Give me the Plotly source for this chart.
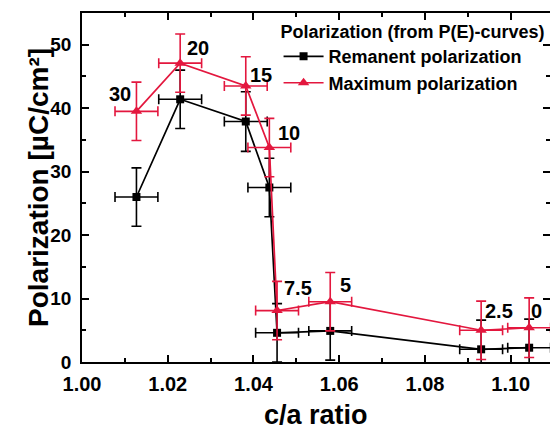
import plotly.graph_objects as go

# c/a ratio of each composition and its label
ca_ratio = [1.0127, 1.0229, 1.0382, 1.0437, 1.0455, 1.0579, 1.0931, 1.1043]
ca_err = [0.005, 0.005, 0.005, 0.005, 0.005, 0.005, 0.005, 0.005]
comp_labels = ["30", "20", "15", "10", "7.5", "5", "2.5", "0"]

# Remanent polarization (µC/cm²) with error
p_rem = [26.0, 41.4, 37.9, 27.5, 4.6, 4.9, 2.0, 2.25]
p_rem_err = [4.6, 4.6, 4.7, 4.6, 4.6, 4.6, 4.6, 4.5]

# Maximum polarization (µC/cm²) with error
p_max = [39.5, 47.1, 43.5, 33.8, 8.1, 9.5, 5.0, 5.4]
p_max_err = [4.6, 4.6, 4.6, 4.6, 4.6, 4.6, 4.6, 4.7]

# label anchor points (data coordinates)
label_x = [1.0088, 1.0270, 1.0418, 1.0483, 1.0503, 1.0614, 1.0973, 1.1060]
label_y = [42.3, 49.5, 45.3, 36.1, 11.7, 12.1, 8.1, 8.1]

BLACK = "#000000"
RED = "#e3173e"
FONT = "Liberation Sans, Arial, sans-serif"

fig = go.Figure()

fig.add_trace(go.Scatter(
    x=ca_ratio, y=p_rem, mode="lines+markers", name="Remanent polarization",
    line=dict(color=BLACK, width=1.7),
    marker=dict(symbol="square", size=8, color=BLACK),
    error_y=dict(type="data", array=p_rem_err, color=BLACK, thickness=1.6, width=5),
    error_x=dict(type="data", array=ca_err, color=BLACK, thickness=1.6, width=5),
))
fig.add_trace(go.Scatter(
    x=ca_ratio, y=p_max, mode="lines+markers", name="Maximum polarization",
    line=dict(color=RED, width=1.7),
    marker=dict(symbol="triangle-up", size=10, color=RED),
    error_y=dict(type="data", array=p_max_err, color=RED, thickness=1.6, width=5),
    error_x=dict(type="data", array=ca_err, color=RED, thickness=1.6, width=5),
))

for lx, ly, txt in zip(label_x, label_y, comp_labels):
    fig.add_annotation(x=lx, y=ly, text=txt, showarrow=False,
                       font=dict(family=FONT, size=20, color="black", weight="bold"),
                       xanchor="center", yanchor="middle")

# axis titles placed as free text around the plot area
fig.add_annotation(
    xref="paper", yref="paper", x=-0.093, y=0.5, text="Polarization [µC/cm²]",
    textangle=-90, showarrow=False, xanchor="center", yanchor="middle",
    font=dict(family=FONT, size=28, color="black", weight="bold"),
)
fig.add_annotation(
    xref="paper", yref="paper", x=0.5, y=-0.1975, text="c/a ratio",
    showarrow=False, xanchor="center", yanchor="bottom", borderpad=0,
    font=dict(family=FONT, size=27, color="black", weight="bold"),
)

axis_common = dict(
    showline=True, linecolor="black", linewidth=1.5, mirror="ticks",
    ticks="inside", ticklen=7, tickwidth=1.5, tickcolor="black",
    showgrid=False, zeroline=False, automargin=False,
)

fig.update_xaxes(
    range=[1.0, 1.10916], dtick=0.02, tick0=1.0, tickformat=".2f",
    minor=dict(dtick=0.01, ticks="inside", ticklen=4, tickwidth=1.5, tickcolor="black"),
    tickfont=dict(family=FONT, size=20, color="black", weight="bold"),
    ticklabelstandoff=3,
    **axis_common,
)
fig.update_yaxes(
    range=[0, 55], dtick=10, tick0=0,
    minor=dict(dtick=5, ticks="inside", ticklen=4, tickwidth=1.5, tickcolor="black"),
    tickfont=dict(family=FONT, size=19, color="black", weight="bold"),
    ticklabelstandoff=5,
    **axis_common,
)

fig.update_layout(
    width=550, height=431,
    margin=dict(l=82, r=0, t=13, b=69),
    paper_bgcolor="white", plot_bgcolor="white",
    font=dict(family=FONT, color="black"),
    showlegend=True,
    legend=dict(
        x=0.42, y=0.995, xanchor="left", yanchor="top",
        bgcolor="rgba(0,0,0,0)", borderwidth=0, itemwidth=40,
        title=dict(text="Polarization (from P(E)-curves)",
                   font=dict(family=FONT, size=18, color="black", weight="bold")),
        font=dict(family=FONT, size=18, color="black", weight="bold"),
        tracegroupgap=0,
    ),
)

fig.write_html("out.html")
